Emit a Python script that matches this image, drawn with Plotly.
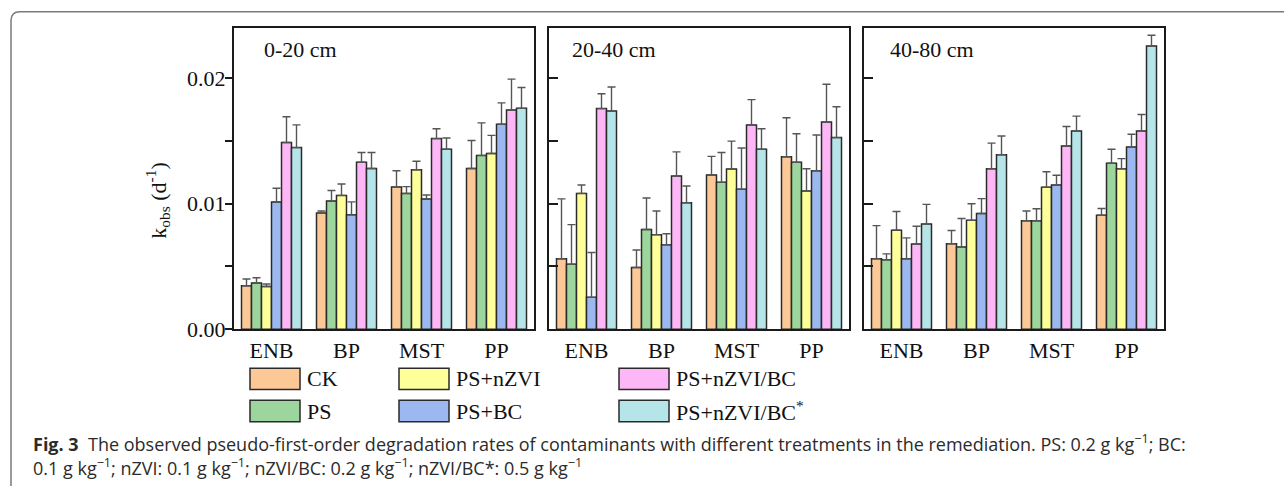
import plotly.graph_objects as go

W, H = 1284, 499

contaminants = ["ENB", "BP", "MST", "PP"]
treatments = ["CK", "PS", "PS+nZVI", "PS+BC", "PS+nZVI/BC", "PS+nZVI/BC*"]
treat_labels = ["CK", "PS", "PS+nZVI", "PS+BC", "PS+nZVI/BC", "PS+nZVI/BC<sup>*</sup>"]
colors = ["#FCC996", "#9DD69C", "#FFFF9A", "#9BB9F0", "#FDB6F6", "#B5E5E8"]
depths = ["0-20 cm", "20-40 cm", "40-80 cm"]

# 0-20 cm : values and upper error per treatment (ENB, BP, MST, PP)
k_0_20_CK = [0.00347, 0.00927, 0.01134, 0.01282]
k_0_20_PS = [0.00368, 0.01023, 0.01083, 0.01386]
k_0_20_nZVI = [0.00340, 0.01067, 0.01272, 0.01401]
k_0_20_BC = [0.01015, 0.00912, 0.01039, 0.01634]
k_0_20_nZVIBC = [0.01489, 0.01331, 0.01520, 0.01748]
k_0_20_nZVIBC5 = [0.01448, 0.01282, 0.01435, 0.01761]
e_0_20_CK = [0.00053, 0.00016, 0.00130, 0.00223]
e_0_20_PS = [0.00042, 0.00083, 0.00054, 0.00259]
e_0_20_nZVI = [0.00020, 0.00091, 0.00067, 0.00145]
e_0_20_BC = [0.00109, 0.00103, 0.00031, 0.00171]
e_0_20_nZVIBC = [0.00205, 0.00078, 0.00078, 0.00246]
e_0_20_nZVIBC5 = [0.00181, 0.00127, 0.00090, 0.00166]

# 20-40 cm
k_20_40_CK = [0.00562, 0.00492, 0.01230, 0.01375]
k_20_40_PS = [0.00518, 0.00795, 0.01171, 0.01331]
k_20_40_nZVI = [0.01083, 0.00754, 0.01277, 0.01103]
k_20_40_BC = [0.00254, 0.00673, 0.01116, 0.01264]
k_20_40_nZVIBC = [0.01759, 0.01222, 0.01629, 0.01652]
k_20_40_nZVIBC5 = [0.01740, 0.01008, 0.01435, 0.01528]
e_20_40_CK = [0.00477, 0.00140, 0.00148, 0.00311]
e_20_40_PS = [0.00316, 0.00251, 0.00238, 0.00228]
e_20_40_nZVI = [0.00067, 0.00189, 0.00223, 0.00176]
e_20_40_BC = [0.00357, 0.00088, 0.00329, 0.00285]
e_20_40_nZVIBC = [0.00119, 0.00192, 0.00202, 0.00301]
e_20_40_nZVIBC5 = [0.00192, 0.00134, 0.00163, 0.00246]

# 40-80 cm
k_40_80_CK = [0.00562, 0.00681, 0.00865, 0.00909]
k_40_80_PS = [0.00554, 0.00655, 0.00865, 0.01323]
k_40_80_nZVI = [0.00790, 0.00868, 0.01132, 0.01279]
k_40_80_BC = [0.00562, 0.00922, 0.01150, 0.01453]
k_40_80_nZVIBC = [0.00679, 0.01279, 0.01461, 0.01580]
k_40_80_nZVIBC5 = [0.00839, 0.01391, 0.01580, 0.02258]
e_40_80_CK = [0.00264, 0.00106, 0.00078, 0.00054]
e_40_80_PS = [0.00047, 0.00228, 0.00096, 0.00112]
e_40_80_nZVI = [0.00148, 0.00132, 0.00124, 0.00081]
e_40_80_BC = [0.00166, 0.00119, 0.00078, 0.00101]
e_40_80_nZVIBC = [0.00142, 0.00205, 0.00155, 0.00132]
e_40_80_nZVIBC5 = [0.00156, 0.00150, 0.00119, 0.00086]

y_tickvals = [0, 0.005, 0.01, 0.015, 0.02]
y_ticktext = ["0.00", "", "0.01", "", "0.02"]

panels = [
    ([k_0_20_CK, k_0_20_PS, k_0_20_nZVI, k_0_20_BC, k_0_20_nZVIBC, k_0_20_nZVIBC5],
     [e_0_20_CK, e_0_20_PS, e_0_20_nZVI, e_0_20_BC, e_0_20_nZVIBC, e_0_20_nZVIBC5]),
    ([k_20_40_CK, k_20_40_PS, k_20_40_nZVI, k_20_40_BC, k_20_40_nZVIBC, k_20_40_nZVIBC5],
     [e_20_40_CK, e_20_40_PS, e_20_40_nZVI, e_20_40_BC, e_20_40_nZVIBC, e_20_40_nZVIBC5]),
    ([k_40_80_CK, k_40_80_PS, k_40_80_nZVI, k_40_80_BC, k_40_80_nZVIBC, k_40_80_nZVIBC5],
     [e_40_80_CK, e_40_80_PS, e_40_80_nZVI, e_40_80_BC, e_40_80_nZVIBC, e_40_80_nZVIBC5]),
]


def px(x):
    return x / W


def py(y):
    return 1 - y / H


SERIF = "Liberation Serif, Times New Roman, serif"
SANS = "Open Sans, Noto Sans, sans-serif"
fig = go.Figure()

for p, (vals, errs) in enumerate(panels):
    xa = "x" if p == 0 else f"x{p+1}"
    ya = "y" if p == 0 else f"y{p+1}"
    for t in range(len(treatments)):
        fig.add_trace(go.Bar(
            x=contaminants, y=vals[t], name=treatments[t],
            xaxis=xa, yaxis=ya, showlegend=False,
            marker=dict(color=colors[t], line=dict(color="#2a2a2a", width=1.5)),
            error_y=dict(type="data", symmetric=False, array=errs[t],
                         arrayminus=[0] * len(errs[t]),
                         color="#555555", thickness=1.4, width=4),
        ))

domains_px = [(234, 534), (549, 849), (864, 1164)]
ydom = [py(338), py(29)]
layout = dict(
    width=W, height=H, margin=dict(l=0, r=0, t=0, b=0),
    paper_bgcolor="white", plot_bgcolor="white",
    barmode="group", bargap=0.2, bargroupgap=0,
    font=dict(family=SERIF, size=22, color="#111"),
)
for p, (a, b) in enumerate(domains_px):
    sfx = "" if p == 0 else str(p + 1)
    layout["xaxis" + sfx] = dict(
        domain=[px(a), px(b)], anchor="y" + sfx, range=[-0.5, 3.5],
        showline=True, linecolor="#1a1a1a", linewidth=2, mirror=True,
        ticks="", showgrid=False, zeroline=False,
        tickfont=dict(family=SERIF, size=22, color="#111"),
    )
    layout["yaxis" + sfx] = dict(
        domain=ydom, anchor="x" + sfx, range=[0, 0.024],
        showline=True, linecolor="#1a1a1a", linewidth=2, mirror=True,
        tickvals=y_tickvals, ticktext=y_ticktext if p == 0 else [""] * 5,
        ticks="outside" if p == 0 else "inside", ticklen=7 if p == 0 else 9,
        tickwidth=1.5, tickcolor="#1a1a1a",
        showgrid=False, zeroline=False, showticklabels=(p == 0),
        tickfont=dict(family=SERIF, size=22, color="#111"),
    )
layout["yaxis"]["ticklabelstandoff"] = -5
fig.update_layout(**layout)

annotations = []
title_x = [262, 570, 888]
for p in range(3):
    annotations.append(dict(x=px(title_x[p]), y=py(51), xref="paper", yref="paper",
                            text=depths[p], showarrow=False, xanchor="left", yanchor="middle",
                            font=dict(family=SERIF, size=22, color="#111")))
annotations.append(dict(x=px(158), y=py(206), xref="paper", yref="paper",
                        text="k<sub>obs</sub> (d<sup>-1</sup>)", textangle=-90, showarrow=False,
                        xanchor="center", yanchor="middle",
                        font=dict(family=SERIF, size=22, color="#111")))

shapes = []
leg_cols = [250, 399, 619]
leg_rows = [378, 411]
order = [(0, 0), (0, 1), (1, 0), (1, 1), (2, 0), (2, 1)]  # (col,row) for each treatment
for t, (c, r) in enumerate(order):
    x0 = leg_cols[c]
    y0 = leg_rows[r]
    shapes.append(dict(type="rect", xref="paper", yref="paper",
                       x0=px(x0), x1=px(x0 + 50), y0=py(y0 + 22), y1=py(y0),
                       fillcolor=colors[t], line=dict(color="#2a2a2a", width=1.5)))
    annotations.append(dict(x=px(x0 + 55), y=py(y0 + 11), xref="paper", yref="paper",
                            text=treat_labels[t], showarrow=False, xanchor="left", yanchor="middle",
                            font=dict(family=SERIF, size=22, color="#111")))

# caption
annotations.append(dict(x=px(31), y=py(455), xref="paper", yref="paper", showarrow=False,
                        xanchor="left", yanchor="middle",
                        text="<b>Fig. 3</b>  The observed pseudo-first-order degradation rates of contaminants with different treatments in the remediation. PS: 0.2 g kg<sup>−1</sup>; BC:",
                        font=dict(family=SANS, size=18, color="#2b2b2b")))
annotations.append(dict(x=px(31), y=py(480), xref="paper", yref="paper", showarrow=False,
                        xanchor="left", yanchor="middle",
                        text="0.1 g kg<sup>−1</sup>; nZVI: 0.1 g kg<sup>−1</sup>; nZVI/BC: 0.2 g kg<sup>−1</sup>; nZVI/BC*: 0.5 g kg<sup>−1</sup>",
                        font=dict(family=SANS, size=18, color="#2b2b2b")))

# outer rounded frame
shapes.append(dict(type="path", xref="paper", yref="paper",
                   path=f"M {px(11)},{py(499)} L {px(11)},{py(21)} Q {px(11)},{py(12)} {px(20)},{py(12)} L {px(1284)},{py(12)}",
                   line=dict(color="#7a7a7a", width=1.5)))

fig.update_layout(annotations=annotations, shapes=shapes)
fig.write_html("out.html")
